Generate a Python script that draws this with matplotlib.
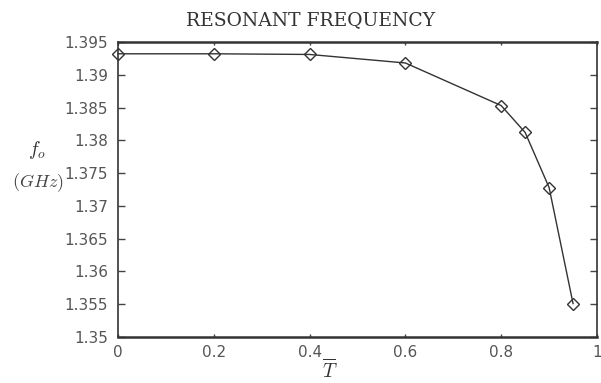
import matplotlib
matplotlib.use("Agg")
import matplotlib.pyplot as plt

plt.rcParams["mathtext.fontset"] = "cm"

x_vals = [0.0, 0.2, 0.4, 0.6, 0.8, 0.85, 0.9, 0.95]
f_vals = [1.3932, 1.3932, 1.3931, 1.3918, 1.3853, 1.3812, 1.3728, 1.3551]
x_ticks = [0, 0.2, 0.4, 0.6, 0.8, 1]
x_tick_labels = ["0", "0.2", "0.4", "0.6", "0.8", "1"]
y_ticks = [1.35, 1.355, 1.36, 1.365, 1.37, 1.375, 1.38, 1.385, 1.39, 1.395]
y_tick_labels = ["1.35", "1.355", "1.36", "1.365", "1.37", "1.375", "1.38", "1.385", "1.39", "1.395"]

W, H = 601, 383
fig = plt.figure(figsize=(W / 100, H / 100), dpi=100)
ax = fig.add_axes([118 / W, (H - 337) / H, 479 / W, (337 - 42) / H])

ax.plot(x_vals, f_vals, color="#333333", lw=1.0, marker="D", markersize=6,
        markerfacecolor="none", markeredgecolor="#333333", markeredgewidth=1.0,
        clip_on=False)

ax.set_xlim(0, 1)
ax.set_ylim(1.35, 1.395)
ax.set_xticks(x_ticks)
ax.set_xticklabels(x_tick_labels)
ax.set_yticks(y_ticks)
ax.set_yticklabels(y_tick_labels)
ax.tick_params(direction="in", length=5, width=1.0, color="#444444",
               labelsize=11, labelcolor="#555555", top=True, right=True)
ax.tick_params(axis="y", pad=7)
ax.tick_params(axis="x", length=2, pad=6)
for lab in ax.get_xticklabels() + ax.get_yticklabels():
    lab.set_family("DejaVu Sans")
for s in ax.spines.values():
    s.set_color("#333333")
    s.set_linewidth(1.2)
ax.spines["top"].set_linewidth(1.8)
ax.spines["bottom"].set_linewidth(1.8)

fig.text(311 / W, 1 - 20 / H, "RESONANT FREQUENCY", ha="center", va="center",
         family="DejaVu Serif", fontsize=13.5, color="#333333")
fig.text(37 / W, 1 - 150 / H, r"$f_o$", ha="center", va="center",
         fontsize=14, color="#333333")
fig.text(38 / W, 1 - 183 / H, r"$(GHz)$", ha="center", va="center",
         fontsize=13, color="#444444")
fig.text(330 / W, 1 - 370 / H, r"$\overline{T}$", ha="center", va="center",
         fontsize=14, color="#333333")

fig.savefig("out.png", dpi=100, facecolor="white")
